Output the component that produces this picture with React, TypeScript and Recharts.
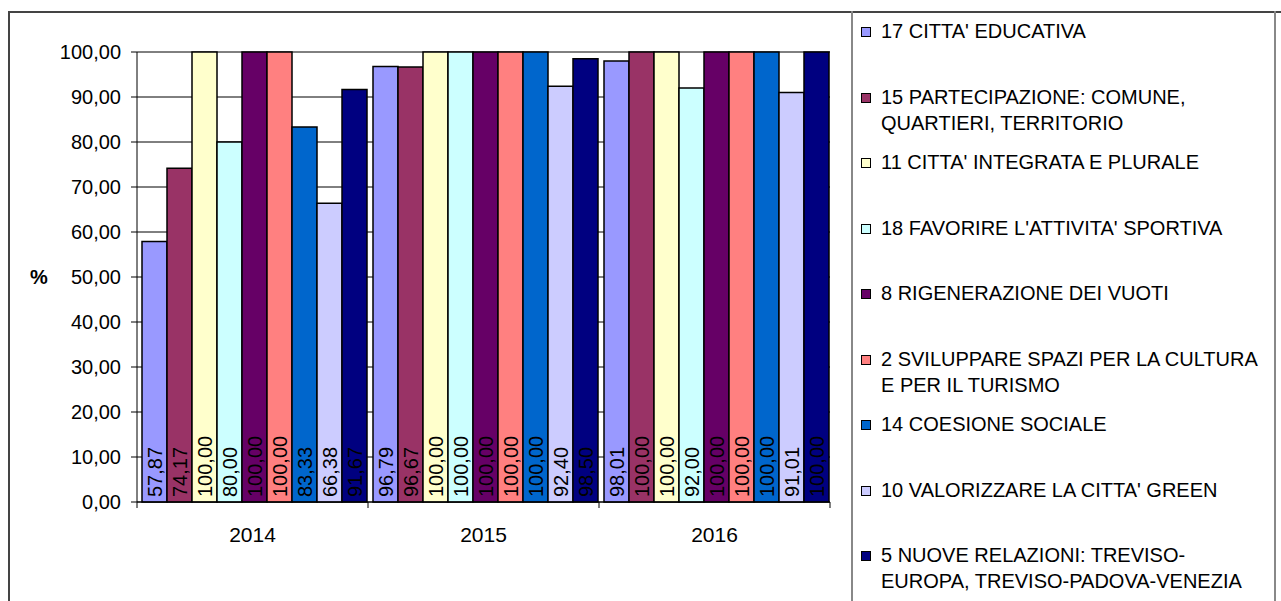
import React from 'react';
import { BarChart, Bar, XAxis, YAxis, CartesianGrid, LabelList } from 'recharts';

const years = ['2014', '2015', '2016'];

const seriesNames = [
  "17 CITTA' EDUCATIVA",
  '15 PARTECIPAZIONE: COMUNE,\nQUARTIERI, TERRITORIO',
  "11 CITTA' INTEGRATA E PLURALE",
  "18 FAVORIRE L'ATTIVITA' SPORTIVA",
  '8 RIGENERAZIONE DEI VUOTI',
  '2 SVILUPPARE SPAZI PER LA CULTURA\nE PER IL TURISMO',
  '14 COESIONE SOCIALE',
  "10 VALORIZZARE LA CITTA' GREEN",
  '5 NUOVE RELAZIONI: TREVISO-\nEUROPA, TREVISO-PADOVA-VENEZIA',
];

const seriesColors = ['#9999FF', '#993366', '#FFFFCC', '#CCFFFF', '#660066', '#FF8080', '#0066CC', '#CCCCFF', '#000080'];

// one array per series, values for 2014, 2015, 2016
const educativa = [57.87, 96.79, 98.01];
const partecipazione = [74.17, 96.67, 100];
const integrata = [100, 100, 100];
const sportiva = [80, 100, 92];
const rigenerazione = [100, 100, 100];
const cultura = [100, 100, 100];
const coesione = [83.33, 100, 100];
const green = [66.38, 92.4, 91.01];
const relazioni = [91.67, 98.5, 100];

const seriesValues = [educativa, partecipazione, integrata, sportiva, rigenerazione, cultura, coesione, green, relazioni];

const yTicks = [0, 10, 20, 30, 40, 50, 60, 70, 80, 90, 100];

const data = years.map((year, i) => {
  const row: Record<string, string | number> = { year };
  seriesValues.forEach((vals, s) => {
    row['s' + s] = vals[i];
  });
  return row;
});

const fmt = (v: number) => Number(v).toFixed(2).replace('.', ',');

const FONT = '"Liberation Sans", Arial, sans-serif';

const ValueLabel = (props: any) => {
  const vb = props.viewBox || {};
  const x = props.x ?? vb.x;
  const y = props.y ?? vb.y;
  const width = props.width ?? vb.width;
  const height = props.height ?? vb.height;
  const cx = x + width / 2;
  const by = y + height - 5;
  return (
    <text
      x={cx}
      y={by}
      transform={`rotate(-90 ${cx} ${by})`}
      textAnchor="start"
      dominantBaseline="central"
      fontSize={20}
      fontFamily={FONT}
      fill="#000"
    >
      {fmt(props.value)}
    </text>
  );
};

// category label plus tick marks on the category boundaries
const YearTick = (props: any) => {
  const { x, y, payload, index } = props;
  const half = payload?.offset ?? 0;
  const last = index === years.length - 1;
  return (
    <g>
      <line x1={x - half} x2={x - half} y1={y} y2={y + 6} stroke="#000" />
      {last && <line x1={x + half} x2={x + half} y1={y} y2={y + 6} stroke="#000" />}
      <text x={x} y={y + 25} dy="0.71em" textAnchor="middle" fontSize={21} fontFamily={FONT} fill="#000">
        {payload.value}
      </text>
    </g>
  );
};

const App: React.FC = () => {
  return (
    <div style={{ position: 'fixed', left: 0, top: 0, width: 1281, height: 601, overflow: 'hidden', background: '#fff', fontFamily: FONT }}>
      <div style={{ position: 'absolute', left: 8, top: 11, width: 1400, height: 700, borderLeft: '2px solid #444', borderTop: '2px solid #444' }} />

      <div style={{ position: 'absolute', left: 0, top: 0 }}>
        <BarChart
          width={1281}
          height={601}
          data={data}
          margin={{ top: 52, right: 451, bottom: 59, left: 0 }}
          barCategoryGap={5}
          barGap={0}
        >
          <CartesianGrid vertical={false} stroke="#000" strokeWidth={1} />
          <XAxis
            dataKey="year"
            height={40}
            tickLine={false}
            tickSize={0}
            tickMargin={0}
            axisLine={{ stroke: '#000' }}
            tick={YearTick}
          />
          <YAxis
            width={137}
            domain={[0, 100]}
            ticks={yTicks}
            tickFormatter={fmt}
            tickSize={6}
            tickMargin={10}
            stroke="#000"
            tick={{ fontSize: 20, fill: '#000', fontFamily: FONT }}
            label={{ value: '%', position: 'insideLeft', offset: 30, fontSize: 20, fontWeight: 'bold', fill: '#000', fontFamily: FONT }}
          />
          {seriesNames.map((name, s) => (
            <Bar
              key={name}
              dataKey={'s' + s}
              name={name}
              fill={seriesColors[s]}
              stroke="#000"
              strokeWidth={1.5}
              isAnimationActive={false}
            >
              <LabelList dataKey={'s' + s} content={ValueLabel} />
            </Bar>
          ))}
        </BarChart>
      </div>

      <div style={{ position: 'absolute', left: 851, top: 11, width: 421, height: 700, borderLeft: '2px solid #888', borderRight: '2px solid #888' }}>
        {seriesNames.map((name, s) => (
          <div key={name} style={{ position: 'absolute', left: 0, top: 7 + 65.5 * s, width: 421 }}>
            <div style={{ position: 'absolute', left: 8, top: 9, width: 8, height: 8, background: seriesColors[s], border: '1.5px solid #000' }} />
            <div style={{ position: 'absolute', left: 28, top: 0, fontSize: 20, lineHeight: '26px', whiteSpace: 'pre', color: '#000' }}>{name}</div>
          </div>
        ))}
      </div>
    </div>
  );
};

export default App;
